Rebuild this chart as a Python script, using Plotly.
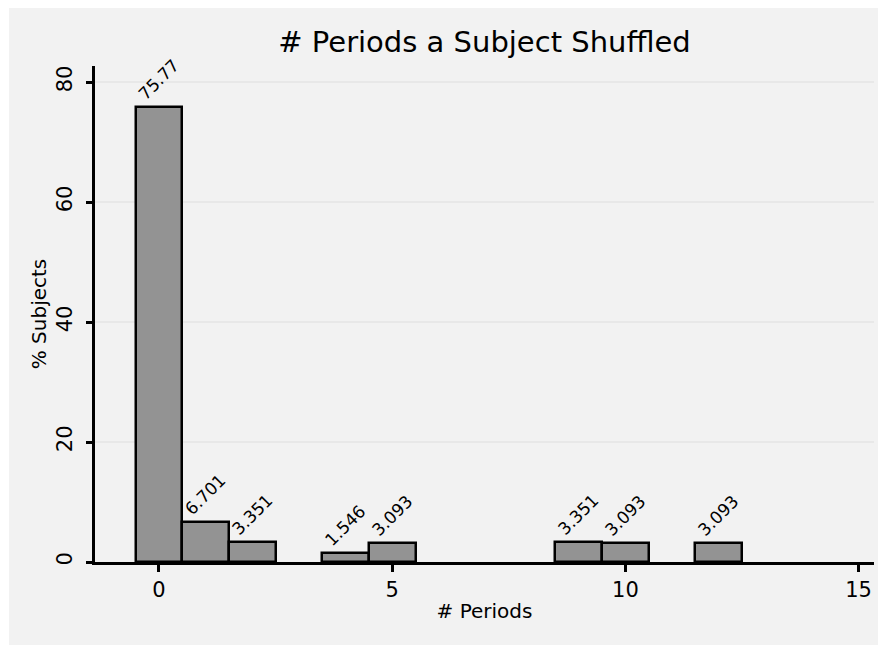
import plotly.graph_objects as go

# Data
periods = [0, 1, 2, 4, 5, 9, 10, 12]
pct_subjects = [75.77, 6.701, 3.351, 1.546, 3.093, 3.351, 3.093, 3.093]
x_ticks = [0, 5, 10, 15]
y_ticks = [0, 20, 40, 60, 80]

FONT = "DejaVu Sans"

fig = go.Figure()
fig.add_trace(go.Bar(
    x=periods,
    y=pct_subjects,
    width=1,
    marker=dict(color="#939393", line=dict(color="black", width=2.5)),
    text=[str(v) for v in pct_subjects],
    textposition="outside",
    textangle=-45,
    textfont=dict(family=FONT, size=17, color="black"),
    constraintext="none",
    cliponaxis=False,
    hoverinfo="x+y",
))

# page body adds an 8px offset; figure extends past the window edge on right/bottom
W, H = 886, 645
L, R, T, B = 87, 20, 58, 91
pw, ph = W - L - R, H - T - B

fig.add_shape(type="rect", xref="paper", yref="paper", layer="below",
              x0=(1 - L) / pw, x1=(W + 20 - L) / pw,
              y0=-(H + 20 - T - ph) / ph, y1=1 + (T + 20) / ph,
              fillcolor="#f2f2f2", line=dict(width=0))

fig.update_layout(
    width=W, height=H,
    margin=dict(l=L, r=R, t=T, b=B),
    paper_bgcolor="white",
    plot_bgcolor="white",
    showlegend=False,
    bargap=0,
    font=dict(family=FONT, size=20, color="black"),
    title=dict(text="# Periods a Subject Shuffled", x=(L + pw / 2) / W, xanchor="center",
               y=1 - 34 / H, yanchor="middle", yref="container",
               font=dict(family=FONT, size=29, color="black")),
    xaxis=dict(
        range=[-1.372, 15.33],
        tickmode="array", tickvals=x_ticks, ticktext=[str(t) for t in x_ticks],
        ticks="outside", ticklen=7, tickwidth=2.5, tickcolor="black",
        showline=True, linecolor="black", linewidth=2.5,
        showgrid=False, zeroline=False,
        tickfont=dict(size=21),
        title=dict(text="# Periods", standoff=4, font=dict(size=20)),
    ),
    yaxis=dict(
        range=[0, 82.67],
        tickmode="array", tickvals=y_ticks, ticktext=[str(t) for t in y_ticks],
        ticks="outside", ticklen=6, tickwidth=2.5, tickcolor="black",
        tickangle=-90, ticklabelstandoff=6,
        showline=True, linecolor="black", linewidth=2.5,
        showgrid=True, gridcolor="#e8e8e8", gridwidth=2,
        zeroline=False,
        tickfont=dict(size=21),
        title=dict(text="% Subjects", standoff=1, font=dict(size=20)),
    ),
)

fig.write_html("out.html")
